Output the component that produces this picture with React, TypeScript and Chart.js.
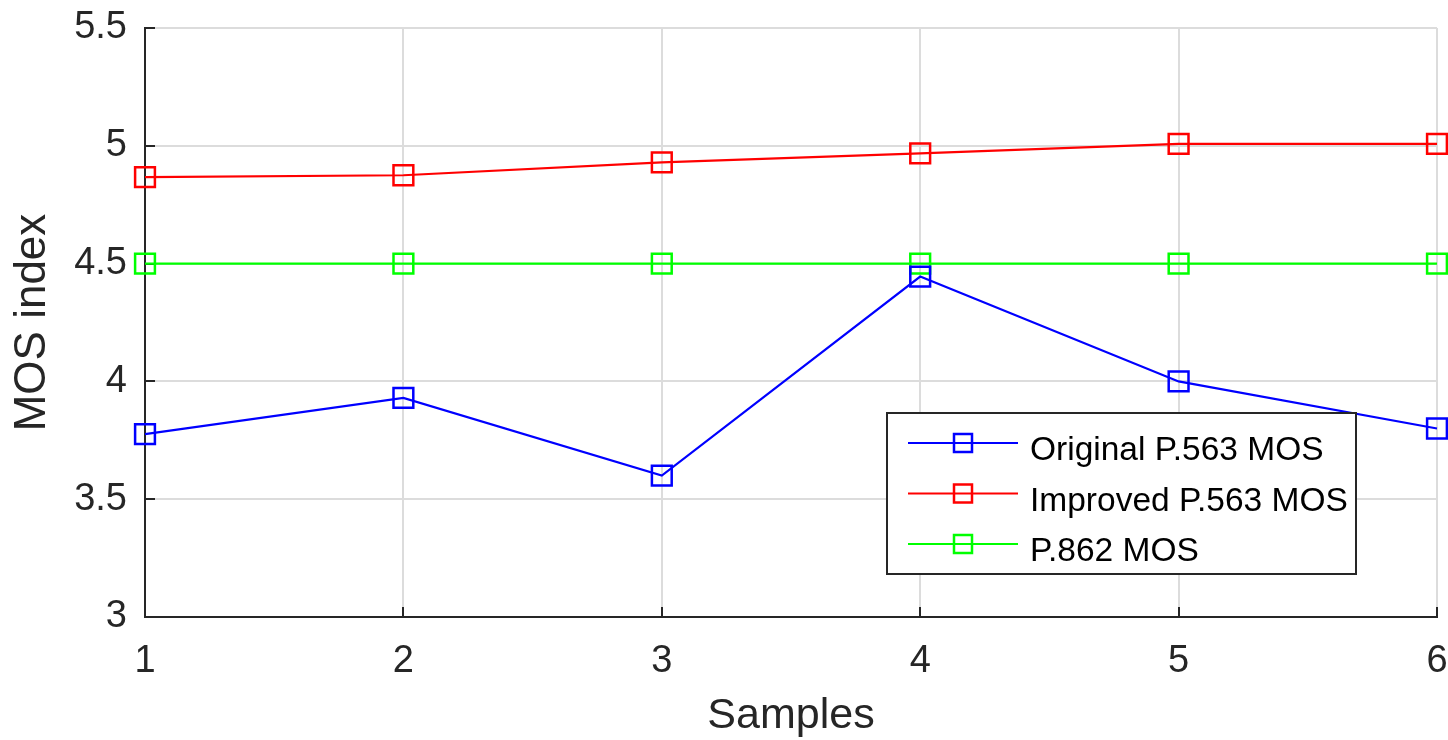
import React, { useEffect, useRef } from "react";
import { Chart, registerables } from "chart.js";

Chart.register(...registerables);

const samples = [1, 2, 3, 4, 5, 6];
const originalP563 = [3.776, 3.93, 3.6, 4.445, 4.0, 3.8];
const improvedP563 = [4.867, 4.875, 4.93, 4.968, 5.008, 5.008];
const p862 = [4.5, 4.5, 4.5, 4.5, 4.5, 4.5];
const seriesLabels = ["Original P.563 MOS", "Improved P.563 MOS", "P.862 MOS"];
const seriesColors = ["#0000ff", "#ff0000", "#00ff00"];
const yTicks = [3, 3.5, 4, 4.5, 5, 5.5];
const xTicks = [1, 2, 3, 4, 5, 6];

const FONT = '"Liberation Sans", Arial, Helvetica, sans-serif';
const AXIS_COLOR = "#262626";
const GRID_COLOR = "#dcdcdc";

const inwardTicks = {
  id: "inwardTicks",
  beforeDatasetsDraw(chart: any) {
    const { ctx, chartArea: a, scales } = chart;
    const x = scales.x;
    const y = scales.y;
    ctx.save();
    ctx.strokeStyle = AXIS_COLOR;
    ctx.lineWidth = 2;
    ctx.beginPath();
    yTicks.forEach((v) => {
      const py = Math.round(y.getPixelForValue(v));
      ctx.moveTo(a.left, py);
      ctx.lineTo(a.left + 10, py);
    });
    xTicks.forEach((v) => {
      const px = Math.round(x.getPixelForValue(v));
      ctx.moveTo(px, a.bottom);
      ctx.lineTo(px, a.bottom - 10);
    });
    ctx.stroke();
    ctx.restore();
  },
};

const boxLegend = {
  id: "boxLegend",
  afterDraw(chart: any) {
    const { ctx, chartArea: a } = chart;
    const bx = a.left + 742;
    const by = a.top + 385;
    const bw = 469;
    const bh = 161;
    ctx.save();
    ctx.fillStyle = "#ffffff";
    ctx.fillRect(bx, by, bw, bh);
    ctx.strokeStyle = AXIS_COLOR;
    ctx.lineWidth = 2;
    ctx.strokeRect(bx, by, bw, bh);
    chart.data.datasets.forEach((ds: any, i: number) => {
      const cy = by + 30 + i * 50.5;
      ctx.strokeStyle = ds.borderColor;
      ctx.lineWidth = 2;
      ctx.beginPath();
      ctx.moveTo(bx + 21, cy);
      ctx.lineTo(bx + 131, cy);
      ctx.stroke();
      ctx.lineWidth = 2.5;
      ctx.strokeRect(bx + 76 - 9, cy - 9, 18, 18);
      ctx.fillStyle = "#000000";
      ctx.font = `33.5px ${FONT}`;
      ctx.textAlign = "left";
      ctx.textBaseline = "alphabetic";
      ctx.fillText(ds.label, bx + 143, cy + 17);
    });
    ctx.restore();
  },
};

export default function App() {
  const ref = useRef<HTMLCanvasElement>(null);

  useEffect(() => {
    const values = [originalP563, improvedP563, p862];
    const chart = new Chart(ref.current as HTMLCanvasElement, {
      type: "line",
      data: {
        datasets: values.map((vals, i) => ({
          label: seriesLabels[i],
          data: samples.map((s, j) => ({ x: s, y: vals[j] })),
          borderColor: seriesColors[i],
          backgroundColor: "rgba(0,0,0,0)",
          borderWidth: 2.2,
          pointStyle: "rect",
          pointRadius: 14,
          pointBorderWidth: 2.5,
          pointBorderColor: seriesColors[i],
          pointBackgroundColor: "rgba(0,0,0,0)",
          tension: 0,
          clip: false as any,
        })),
      },
      options: {
        animation: false,
        responsive: false,
        devicePixelRatio: 1,
        layout: { autoPadding: false, padding: { left: 0, right: 11, top: 28, bottom: 0 } },
        plugins: {
          legend: { display: false },
          tooltip: { enabled: false },
        },
        scales: {
          x: {
            type: "linear",
            min: 1,
            max: 6,
            afterBuildTicks: (s: any) => {
              s.ticks = xTicks.map((v) => ({ value: v }));
            },
            afterFit: (s: any) => {
              s.height = 123;
              s.paddingLeft = 0;
              s.paddingRight = 0;
            },
            grid: { color: GRID_COLOR, lineWidth: 2, drawTicks: false },
            border: { display: true, color: AXIS_COLOR, width: 2 },
            ticks: {
              font: { family: FONT, size: 38 },
              color: AXIS_COLOR,
              padding: 22,
              maxRotation: 0,
              autoSkip: false,
              callback: (v: any) => String(v),
            },
            title: {
              display: true,
              text: "Samples",
              font: { family: FONT, size: 43, lineHeight: 1.1 },
              color: AXIS_COLOR,
              padding: 0,
            },
          },
          y: {
            type: "linear",
            min: 3,
            max: 5.5,
            afterBuildTicks: (s: any) => {
              s.ticks = yTicks.map((v) => ({ value: v }));
            },
            afterFit: (s: any) => {
              s.width = 145;
              s.paddingTop = 0;
              s.paddingBottom = 0;
            },
            grid: { color: GRID_COLOR, lineWidth: 2, drawTicks: false },
            border: { display: true, color: AXIS_COLOR, width: 2 },
            ticks: {
              font: { family: FONT, size: 38 },
              color: AXIS_COLOR,
              padding: 18,
              callback: (v: any) => String(v),
            },
            title: {
              display: true,
              text: "MOS index",
              font: { family: FONT, size: 44 },
              color: AXIS_COLOR,
              padding: { top: 6, bottom: 0 },
            },
          },
        },
      },
      plugins: [inwardTicks, boxLegend],
    });
    return () => chart.destroy();
  }, []);

  return (
    <div style={{ position: "fixed", left: 0, top: 0, width: 1448, height: 740, background: "#fff" }}>
      <canvas ref={ref} width={1448} height={740} style={{ display: "block" }} />
    </div>
  );
}
